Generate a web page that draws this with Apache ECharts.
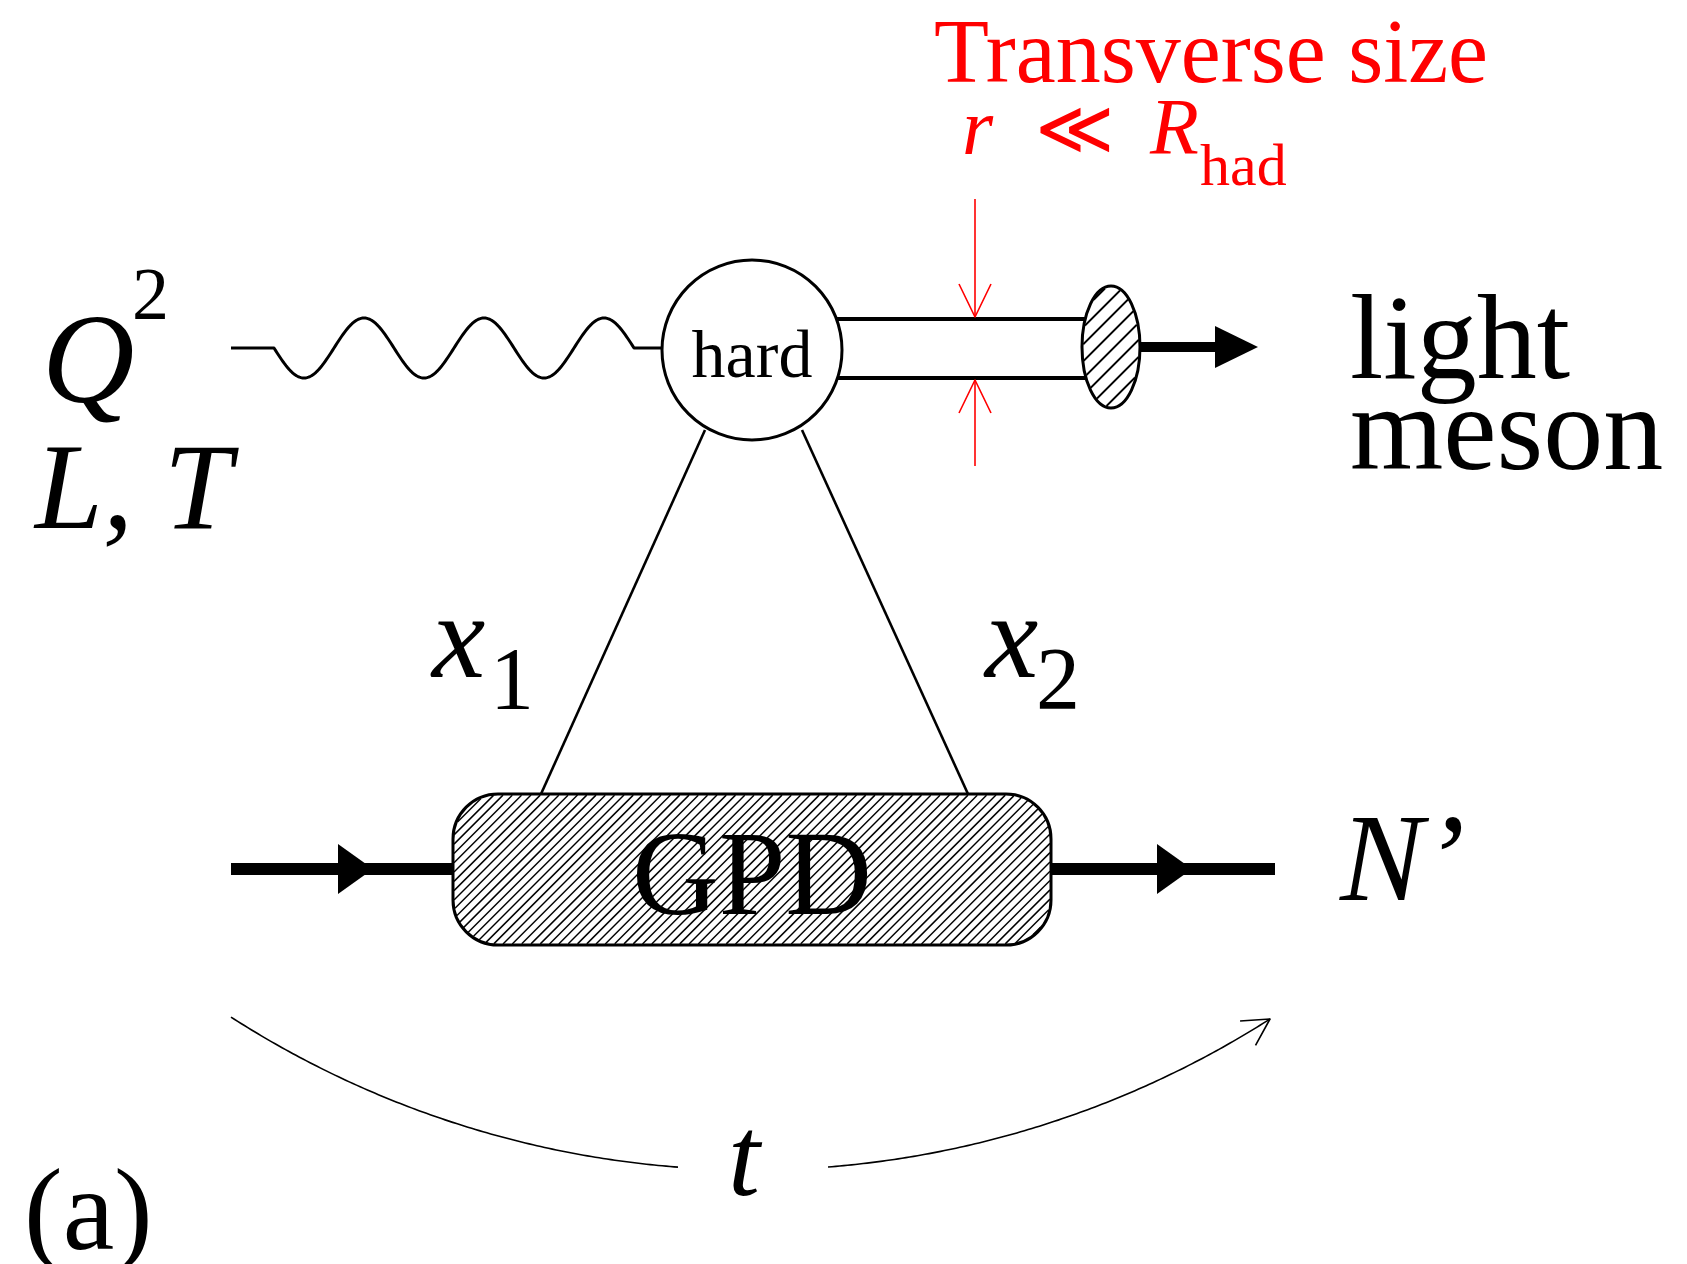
<!DOCTYPE html>
<html><head><meta charset="utf-8">
<script src="https://cdn.jsdelivr.net/npm/echarts@6/dist/echarts.min.js"></script>
<style>html,body{margin:0;padding:0;background:#fff}#c{width:1687px;height:1264px}</style>
</head><body><div id="c"></div>
<script>
// ---------- diagram data (diagram units, mapped through hidden value axes) ----------
const photonEnds = [[231, 348], [274, 348], [634, 348], [664, 348]];   // flat lead-in, wavy part, flat lead-out
const hardBlob = [752, 350, 90];                                        // cx, cy, r
const tubeLines = [[752, 319, 1110, 319], [752, 378, 1110, 378]];
const mesonBlob = [1111, 347, 29, 61];                                  // cx, cy, rx, ry
const mesonArrow = [[1140, 347], [1258, 347]];
const sizeArrows = [[975, 199, 975, 317], [975, 466, 975, 380]];        // tail -> tip
const partonLegs = [[705, 430, 541, 794], [802, 430, 968, 794]];
const gpdBox = [453, 794, 1051, 945];                                   // x0, y0, x1, y1
const nucleonLines = [[231, 869, 453, 869], [1051, 869, 1275, 869]];
const nucleonArrowTips = [[373, 869], [1192, 869]];
const tArcCenter = [752, 206];
const tArcRadius = 964;
const tArcSpansX = [[231, 678], [828, 1270]];
const labelTexts = ['Transverse size', 'r', '\u226A', 'R', 'had', 'Q', '2', 'L, T', 'hard', 'light', 'meson',
                    'x', '1', 'x', '2', 'GPD', 'N\u2019', 't', '(a)'];
const labelAnchors = [[934, 81], [962, 153], [1035, 153], [1150, 153], [1200, 184], [42, 400], [132, 318], [35, 526],
                      [752, 376], [1350, 376], [1350, 467], [432, 675], [490, 707], [985, 675], [1036, 707],
                      [752, 912], [1340, 898], [728, 1194], [24, 1248]];

// ---------- styles ----------
const RED = '#ff0000';
const labelStyles = [
  [90, false, RED, 'left'], [80, true, RED, 'left'], [76, false, RED, 'left'], [80, true, RED, 'left'], [60, false, RED, 'left'],
  [128, true, '#000', 'left'], [74, false, '#000', 'left'], [122, true, '#000', 'left'], [68, false, '#000', 'center'],
  [120, false, '#000', 'left'], [120, false, '#000', 'left'], [120, true, '#000', 'left'], [88, false, '#000', 'left'],
  [120, true, '#000', 'left'], [88, false, '#000', 'left'], [120, false, '#000', 'center'], [125, true, '#000', 'left'],
  [115, true, '#000', 'left'], [116, false, '#000', 'left']
];
const WAVE_AMP = 30, WAVE_PERIOD = 120;
const FAMILY = '"Liberation Serif", "DejaVu Serif", serif';
const MID = 0.25;

function renderItem(params, api) {
  const P = (x, y) => api.coord([x, y]);
  const ch = [];
  const poly = (pts, w, color, cap) => ch.push({type: 'polyline', shape: {points: pts},
      style: {stroke: color || '#000', lineWidth: w, fill: null, lineCap: cap || 'butt', lineJoin: 'round'}});
  const tri = (pts) => ch.push({type: 'polygon', shape: {points: pts}, style: {fill: '#000', stroke: null}});

  // photon (wavy line)
  const ph = [P(photonEnds[0][0], photonEnds[0][1])];
  const w0 = P(photonEnds[1][0], photonEnds[1][1]), w1 = P(photonEnds[2][0], photonEnds[2][1]);
  for (let x = w0[0]; x <= w1[0] + 0.01; x += 1.5) {
    ph.push([x, w0[1] + WAVE_AMP * Math.sin(2 * Math.PI * (x - w0[0]) / WAVE_PERIOD)]);
  }
  ph.push(w1, P(photonEnds[3][0], photonEnds[3][1]));
  poly(ph, 3);

  // parton legs
  partonLegs.forEach(l => poly([P(l[0], l[1]), P(l[2], l[3])], 2.6));
  // meson tube
  tubeLines.forEach(l => poly([P(l[0], l[1]), P(l[2], l[3])], 4));

  // hard blob
  const hc = P(hardBlob[0], hardBlob[1]);
  ch.push({type: 'circle', shape: {cx: hc[0], cy: hc[1], r: hardBlob[2]}, style: {fill: '#fff', stroke: '#000', lineWidth: 3}});

  // hatching helper
  function hatch(inside, x0, y0, x1, y1, sp, lw) {
    for (let c = x0 + y0 + sp / 2; c < x1 + y1; c += sp) {
      let a = null, b = null;
      for (let x = x0; x <= x1; x += 0.25) {
        const y = c - x;
        if (inside(x, y)) { if (a === null) a = x; b = x; }
      }
      if (a !== null && b - a > 0.5) poly([[a, c - a], [b, c - b]], lw);
    }
  }

  // meson arrow
  const ma = P(mesonArrow[0][0], mesonArrow[0][1]), mt = P(mesonArrow[1][0], mesonArrow[1][1]);
  poly([ma, [mt[0] - 30, mt[1]]], 10);
  tri([[mt[0], mt[1]], [mt[0] - 43, mt[1] - 21], [mt[0] - 43, mt[1] + 21]]);

  // meson blob (hatched ellipse)
  const mc = P(mesonBlob[0], mesonBlob[1]), rx = mesonBlob[2], ry = mesonBlob[3];
  ch.push({type: 'ellipse', shape: {cx: mc[0], cy: mc[1], rx: rx, ry: ry}, style: {fill: '#fff', stroke: null}});
  hatch((x, y) => ((x - mc[0]) / (rx - 1)) ** 2 + ((y - mc[1]) / (ry - 1)) ** 2 <= 1,
        mc[0] - rx, mc[1] - ry, mc[0] + rx, mc[1] + ry, 17, 1.8);
  ch.push({type: 'ellipse', shape: {cx: mc[0], cy: mc[1], rx: rx, ry: ry}, style: {fill: null, stroke: '#000', lineWidth: 3}});

  // red size arrows
  sizeArrows.forEach(a => {
    const t0 = P(a[0], a[1]), t1 = P(a[2], a[3]);
    const d = Math.sign(t1[1] - t0[1]);
    poly([t0, t1], 1.6, RED);
    poly([[t1[0] - 16, t1[1] - d * 33], t1, [t1[0] + 16, t1[1] - d * 33]], 1.6, RED);
  });

  // nucleon lines with arrows
  nucleonLines.forEach(l => poly([P(l[0], l[1]), P(l[2], l[3])], 12));
  nucleonArrowTips.forEach(t => {
    const p = P(t[0], t[1]);
    tri([[p[0], p[1]], [p[0] - 35, p[1] - 25], [p[0] - 35, p[1] + 25]]);
  });

  // GPD box
  const g0 = P(gpdBox[0], gpdBox[1]), g1 = P(gpdBox[2], gpdBox[3]);
  const R = 45;
  ch.push({type: 'rect', shape: {x: g0[0], y: g0[1], width: g1[0] - g0[0], height: g1[1] - g0[1], r: R},
           style: {fill: '#fff', stroke: null}});
  hatch((x, y) => {
    if (x < g0[0] + 1 || x > g1[0] - 1 || y < g0[1] + 1 || y > g1[1] - 1) return false;
    const dx = Math.max(g0[0] + R - x, 0, x - (g1[0] - R));
    const dy = Math.max(g0[1] + R - y, 0, y - (g1[1] - R));
    return dx * dx + dy * dy <= (R - 1) * (R - 1);
  }, g0[0], g0[1], g1[0], g1[1], 9.3, 1.5);
  ch.push({type: 'rect', shape: {x: g0[0], y: g0[1], width: g1[0] - g0[0], height: g1[1] - g0[1], r: R},
           style: {fill: null, stroke: '#000', lineWidth: 3}});

  // momentum transfer arc t
  const ac = P(tArcCenter[0], tArcCenter[1]);
  tArcSpansX.forEach(s => {
    const th0 = Math.acos((s[0] - tArcCenter[0]) / tArcRadius), th1 = Math.acos((s[1] - tArcCenter[0]) / tArcRadius);
    const pts = [];
    for (let i = 0; i <= 120; i++) {
      const th = th0 + (th1 - th0) * i / 120;
      pts.push([ac[0] + tArcRadius * Math.cos(th), ac[1] + tArcRadius * Math.sin(th)]);
    }
    poly(pts, 1.6);
  });
  const thE = Math.acos((tArcSpansX[1][1] - tArcCenter[0]) / tArcRadius);
  const tip = [ac[0] + tArcRadius * Math.cos(thE), ac[1] + tArcRadius * Math.sin(thE)];
  const dir = Math.atan2(-Math.cos(thE), Math.sin(thE));
  const arm = (ang) => [tip[0] - 30 * Math.cos(dir + ang), tip[1] - 30 * Math.sin(dir + ang)];
  poly([arm(0.5), tip, arm(-0.5)], 1.6);

  // labels
  labelTexts.forEach((t, i) => {
    const st = labelStyles[i], p = P(labelAnchors[i][0], labelAnchors[i][1]);
    const size = st[0];
    ch.push({type: 'text', style: {
      text: t, x: p[0], y: p[1] - MID * size,
      font: (st[1] ? 'italic ' : '') + size + 'px ' + FAMILY,
      fill: st[2], align: st[3], verticalAlign: 'middle', textAlign: st[3], textVerticalAlign: 'middle'
    }});
  });

  return {type: 'group', children: ch};
}

const chart = echarts.init(document.getElementById('c'), null, {renderer: 'canvas'});
chart.setOption({
  animation: false,
  backgroundColor: '#fff',
  grid: {left: 0, right: 0, top: 0, bottom: 0},
  xAxis: {type: 'value', min: 0, max: 1687, show: false},
  yAxis: {type: 'value', min: 0, max: 1264, inverse: true, show: false},
  series: [{type: 'custom', renderItem: renderItem, data: [[0, 0]], clip: false, silent: true}]
});
</script>
</body></html>
